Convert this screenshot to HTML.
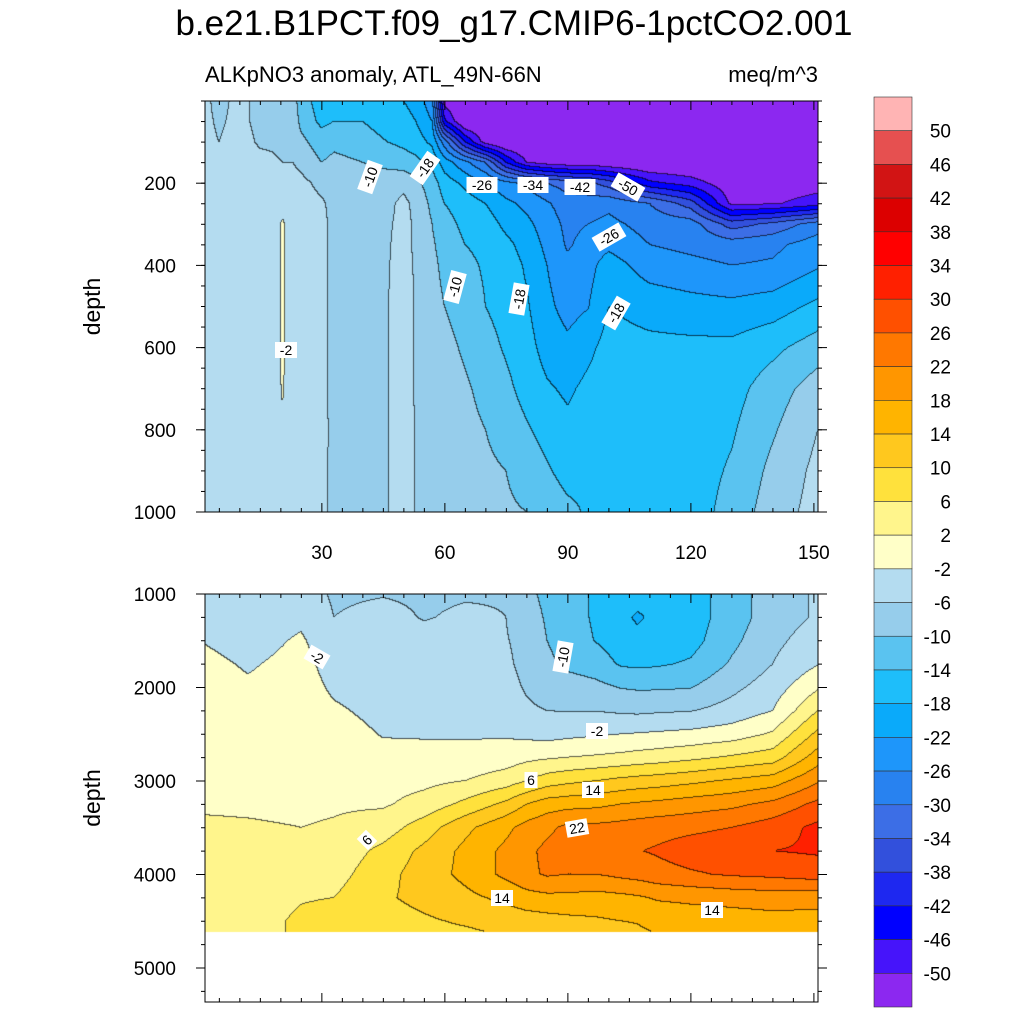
<!DOCTYPE html>
<html><head><meta charset="utf-8">
<style>
body{margin:0;background:#fff;}
#wrap{position:relative;width:1024px;height:1024px;font-family:"Liberation Sans",sans-serif;}
canvas{position:absolute;left:0;top:0;}
svg{position:absolute;left:0;top:0;}
</style></head><body>
<div id="wrap">
<canvas id="cv" width="1024" height="1024"></canvas>
<svg id="sv" width="1024" height="1024"></svg>
</div>
<script>
// ---------- data ----------
const levels = [-50,-46,-42,-38,-34,-30,-26,-22,-18,-14,-10,-6,-2,2,6,10,14,18,22,26,30,34,38,42,46,50];
const colors = ["#8c28f0","#4614fa","#0000ff","#1e28f0","#3250dc","#3c6ee6","#2882f0","#1e96fa","#0aaafa","#1ebefa","#5ac3f0","#96cdeb","#b4dcf0","#ffffc8","#fff58c","#ffe13c","#ffc81e","#ffb400","#ff9600","#ff7800","#ff5000","#ff2000","#ff0000","#dc0000","#d21414","#e65050","#ffb4b4"];
const topYears = [1,5,10,15,18,20.5,23,25,30,33,40,46,50,53,57,60,65,70,75,80,85,90,95,100,110,120,130,140,151];
const topDepths = [0,50,100,150,200,250,300,350,400,500,600,700,800,900,1000];
// each row = one year column, values by depth
const topValues = [
[-5,-5,-5,-4.5,-4,-4,-4,-4,-4,-4,-4,-4,-4,-4,-4],
[-7,-6.5,-6,-5,-4,-4,-4,-4,-4,-4,-4,-4,-4,-4,-4],
[-5,-5,-4.5,-4,-4,-4,-4,-4,-4,-4,-4,-4,-4,-4,-4],
[-7,-7,-6.5,-5,-4,-4,-4,-4,-4,-4,-4,-4,-4,-4,-4],
[-7.5,-7,-6.5,-5.5,-4.5,-4,-4,-4,-4,-4,-4,-4,-4,-4,-4],
[-8,-7.5,-7,-6,-4.5,-3.5,-1.5,-1.5,-1.5,-1.5,-1.5,-1.7,-2.5,-3.5,-4],
[-8,-7.5,-7,-6,-4.5,-4,-4,-4,-4,-4,-4,-4,-4,-4,-4],
[-12,-11,-9,-7,-5,-4.5,-4.5,-4.5,-4.5,-4.5,-4.5,-4.5,-4.5,-4.5,-4.5],
[-16,-15,-12,-10,-7,-5.5,-5,-5,-5,-5,-5,-5,-5,-5.5,-5.8],
[-15,-14,-11,-9,-7.5,-7,-7,-7,-7,-7,-7,-7,-6.8,-6.5,-6.2],
[-15,-14,-12,-10,-8,-7.5,-7.5,-7.5,-7.5,-7.5,-7.5,-7.5,-7.5,-7.5,-7.5],
[-17,-16,-14,-11,-8,-7,-6.5,-6.3,-6.2,-6.1,-6.1,-6.1,-6.1,-6.1,-6.1],
[-18,-17,-15,-12,-7,-5,-5,-5,-5,-5,-5,-5,-5,-5,-5],
[-19,-18,-16,-13,-9,-7,-6.5,-6.5,-6.3,-6.2,-6.2,-6.2,-6.1,-6.1,-6.1],
[-25,-22,-19,-15,-12,-11,-10,-9.5,-9,-8.5,-8,-7.5,-7.3,-7,-7],
[-52,-45,-28,-20,-16,-14,-12.5,-11.5,-11,-10,-9,-8.5,-8,-8,-8],
[-55,-55,-42,-25,-19,-16,-15,-14,-13,-11.5,-10.5,-9.5,-9,-8.5,-8.5],
[-55,-55,-52,-30,-22,-18,-16,-15,-14.5,-14,-12.5,-11,-10,-9.3,-9],
[-55,-55,-55,-42,-25,-21,-19,-17,-16,-15.5,-14.5,-13,-11.5,-10,-9.5],
[-55,-55,-55,-50,-27,-23,-21,-19.5,-18.5,-17.5,-16.5,-15.5,-13.5,-11.5,-10],
[-55,-55,-55,-52,-30,-25.5,-24,-23,-22,-21,-19.5,-17.5,-15.5,-13.5,-11.5],
[-55,-55,-55,-53,-32,-28,-27,-26.5,-25,-23.5,-21,-18.7,-17,-15.5,-13],
[-55,-55,-55,-53,-33,-28,-26,-24.5,-23.5,-22.2,-19,-17,-16,-15,-14.5],
[-55,-55,-55,-54,-36,-27,-25,-23,-20,-18,-16.5,-16,-16,-16,-16],
[-55,-55,-55,-55,-45,-30,-27.5,-26,-24,-19.5,-17,-16,-16,-16,-16],
[-55,-55,-55,-55,-48,-36,-28,-27,-25,-20.5,-17,-16,-16,-16,-16],
[-55,-55,-55,-55,-53,-51,-36,-28,-26,-21,-17,-15.5,-14.5,-13.5,-12.5],
[-55,-55,-55,-55,-53,-50.5,-33,-27,-25.5,-20,-15,-12,-10.5,-9,-8],
[-55,-55,-55,-55,-52,-48,-28,-24,-22.5,-17,-12,-8,-6,-5,-4.5]];
const botYears = [1,12,25,33,45,55,65,75,80,85,90,97,103,107,112,120,130,140,151];
const botDepths = [1000,1250,1500,1750,2000,2250,2500,2750,3000,3250,3500,3750,4000,4250,4500,4615];
const botValues = [
[-4,-3.5,-2.1,-1,0,0,0,0.3,0.8,1.5,2.6,3.5,4,4,4,4],
[-4.5,-4,-3.5,-2.4,-1.5,-0.5,0,0.3,0.8,1.4,2.4,3.5,4.2,4.5,4.8,4.8],
[-4,-2.8,-1.5,-0.8,-0.3,0,0,0.2,0.6,1.2,2,3.5,4.8,5.8,6.5,6.5],
[-6.5,-6,-4.5,-3.5,-2.6,-1.5,-0.5,0,0.6,1.5,2.4,3.5,4.5,6,7,7],
[-6.2,-5,-4.5,-4,-3.6,-3,-2.2,-1,0.5,1.5,4,7,8.5,9.5,8.5,8],
[-6.5,-6.2,-5,-4,-3.5,-3,-2.3,-1,1,3.5,8,11,12,11,9.5,9],
[-6.3,-5.5,-4.8,-4.3,-3.8,-3.2,-2.4,-0.8,2,7,13,15,15,13,10.5,9.5],
[-6.2,-6,-5.8,-5.5,-5,-4,-2.5,0,4,11,17,19,19,15,11.5,10.5],
[-9,-8,-7,-6.8,-6.3,-5.5,-3,1,6,14,19.5,21,21,16.5,12,11],
[-11,-10.5,-10,-9,-7.5,-6,-3.5,1.5,8,16,21,23,22.5,17,12.5,11.5],
[-12.5,-12.5,-12,-11,-8,-6.2,-3,2,9,16.5,23,24.5,22,17,13,12],
[-14.5,-14.5,-14.2,-12,-9,-6.1,-2.5,2.5,10,17,23,24.8,22,16.5,13.5,12.5],
[-16,-17,-16,-14.5,-10.2,-6.6,-2,3,11,18,23.5,25.5,23,17,14,13],
[-16.5,-18.5,-17,-14.8,-10.5,-6.8,-1.8,3.5,11.5,18.5,24,25.8,23.5,17.5,14.2,13.5],
[-16.5,-17,-16.5,-14.5,-10.5,-6.5,-1.5,4,12,19,24.5,26.5,24.5,18.5,15,14.2],
[-16,-16,-15.5,-13.5,-10.2,-6.2,-1,5,13,20,25,28,25.5,19,15.5,15],
[-12,-12,-11,-9.5,-7,-4.5,0,6.5,14.5,21,26,29,26.5,19.5,16,15.5],
[-8,-8,-7,-6,-4,-2,2.5,8,16,23,28,30,27,20,16.5,16],
[-5.5,-5.5,-4,-2.2,1.5,6,11,16,21.5,27,31,30.5,28,19.5,16.5,16]];
const xTicks = [30,60,90,120,150];
const topYTicks = [200,400,600,800,1000];
const botYTicks = [1000,2000,3000,4000,5000];

// ---------- geometry ----------
const PX0=205, PX1=818, yr0=1.5, yr1=151;
const xs = yr => PX0 + (yr-yr0)/(yr1-yr0)*(PX1-PX0);
const xinv = px => yr0 + (px-PX0)/(PX1-PX0)*(yr1-yr0);
const topP = {y0:101,y1:512,d0:0,d1:1000};
const botP = {y0:594,y1:1002,d0:1000,d1:1000+(1002-594)/93.5*1000};
const ys = (p,d) => p.y0 + (d-p.d0)/(p.d1-p.d0)*(p.y1-p.y0);
const yinv = (p,py) => p.d0 + (py-p.y0)/(p.y1-p.y0)*(p.d1-p.d0);

function seg(arr,v){let i=0;while(i<arr.length-2&&v>arr[i+1])i++;let t=(v-arr[i])/(arr[i+1]-arr[i]);return [i,Math.max(0,Math.min(1,t))];}
function interp(X,Y,V,x,y){const [i,tx]=seg(X,x);const [j,ty]=seg(Y,y);
 const a=V[i][j],b=V[i+1][j],c=V[i][j+1],d=V[i+1][j+1];
 return a*(1-tx)*(1-ty)+b*tx*(1-ty)+c*(1-tx)*ty+d*tx*ty;}
function band(v){let k=0;while(k<levels.length&&v>levels[k])k++;return k;}
function hex(h){return [parseInt(h.substr(1,2),16),parseInt(h.substr(3,2),16),parseInt(h.substr(5,2),16)];}
const rgb = colors.map(hex);

const cv=document.getElementById('cv'),ctx=cv.getContext('2d');
function drawField(p,X,Y,V,maxDepth){
 const yEnd=Math.min(p.y1,Math.round(ys(p,maxDepth)));
 const w=PX1-PX0, h=yEnd-p.y0;
 const img=ctx.createImageData(w,h);
 const B=new Int16Array(w*h);
 for(let r=0;r<h;r++){const d=yinv(p,p.y0+r+0.5);
  for(let c=0;c<w;c++){B[r*w+c]=band(interp(X,Y,V,xinv(PX0+c+0.5),d));}}
 for(let r=0;r<h;r++)for(let c=0;c<w;c++){
  const k=B[r*w+c];let col=rgb[k];
  const edge=(c<w-1&&B[r*w+c+1]!==k)||(r<h-1&&B[(r+1)*w+c]!==k);
  const o=(r*w+c)*4;
  if(edge){img.data[o]=col[0]*0.35;img.data[o+1]=col[1]*0.35;img.data[o+2]=col[2]*0.35;}
  else{img.data[o]=col[0];img.data[o+1]=col[1];img.data[o+2]=col[2];}
  img.data[o+3]=255;}
 ctx.putImageData(img,PX0,p.y0);
}
drawField(topP,topYears,topDepths,topValues,1000);
drawField(botP,botYears,botDepths,botValues,4615);

// ---------- svg overlay ----------
const NS="http://www.w3.org/2000/svg",sv=document.getElementById('sv');
function mk(tag,attrs,parent){const e=document.createElementNS(NS,tag);for(const k in attrs)e.setAttribute(k,attrs[k]);(parent||sv).appendChild(e);return e;}
function txt(s,attrs,name){const e=mk('text',attrs);e.textContent=s;
 
 return e;}

txt("b.e21.B1PCT.f09_g17.CMIP6-1pctCO2.001",{x:514,y:35,'font-size':35,'text-anchor':'middle'},'chart-title');
txt("ALKpNO3 anomaly, ATL_49N-66N",{x:205,y:82,'font-size':22},'subtitle-left');
txt("meq/m^3",{x:818,y:82,'font-size':22,'text-anchor':'end'},'units-label');

function panel(p,yt,name,showX,minorStep){
 const g=mk('g',{});
 
 
 mk('rect',{x:PX0,y:p.y0,width:PX1-PX0,height:p.y1-p.y0,fill:'none',stroke:'#000','stroke-width':1},g);
 xTicks.forEach(t=>{const x=xs(t);
  mk('line',{x1:x,x2:x,y1:p.y1,y2:p.y1-9,stroke:'#000'},g);
  mk('line',{x1:x,x2:x,y1:p.y0,y2:p.y0+9,stroke:'#000'},g);
  if(showX){txt(String(t),{x:x,y:p.y1+47,'font-size':19,'text-anchor':'middle'},'x-tick-label');}
 });
 for(let t=5;t<=150;t+=5){if(t%30===0)continue;const x=xs(t);
  mk('line',{x1:x,x2:x,y1:p.y1,y2:p.y1-4,stroke:'#000'},g);
  mk('line',{x1:x,x2:x,y1:p.y0,y2:p.y0+4,stroke:'#000'},g);}
 yt.forEach(t=>{const y=ys(p,t);
  mk('line',{x1:PX0,x2:PX0-9,y1:y,y2:y,stroke:'#000'},g);
  mk('line',{x1:PX1,x2:PX1+9,y1:y,y2:y,stroke:'#000'},g);
  txt(String(t),{x:176,y:y+7,'font-size':19,'text-anchor':'end'},'y-tick-label');});
 for(let t=p.d0;t<=p.d1;t+=minorStep){const y=ys(p,t);
  mk('line',{x1:PX0,x2:PX0-4,y1:y,y2:y,stroke:'#000'},g);
  mk('line',{x1:PX1,x2:PX1+4,y1:y,y2:y,stroke:'#000'},g);}
 const cy=(p.y0+p.y1)/2;
 txt("depth",{x:100,y:cy,'font-size':23,'text-anchor':'middle',transform:`rotate(-90 100 ${cy})`},name+'-y-axis-title');
}
panel(topP,topYTicks,'top-panel',true,50);
panel(botP,botYTicks,'bottom-panel',false,250);

// contour labels
const labels=[["-10",370,177,-70],["-18",425,168,-55],["-26",482,185,0],["-34",533,185,0],["-42",580,187,0],["-50",628,187,30],["-26",609,237,-30],["-10",455,287,-75],["-18",519,299,-80],["-18",616,313,-60],["-2",286,350,0],
["-2",317,657,30],["-10",563,657,-80],["-2",597,731,0],["6",531,780,0],["14",593,790,0],["22",577,828,-10],["6",367,840,-45],["14",502,898,0],["14",712,910,0]];
labels.forEach(l=>{const g=mk('g',{transform:`translate(${l[1]},${l[2]}) rotate(${l[3]})`});
 
 
 const w=l[0].length*9+4;
 mk('rect',{x:-w/2,y:-8,width:w,height:16,fill:'#fff'},g);
 const t=mk('text',{x:0,y:5,'font-size':14,'text-anchor':'middle'},g);t.textContent=l[0];});

// colorbar
const CB0=97,CB1=1007,n=colors.length,bh=(CB1-CB0)/n;
const cb=mk('g',{});


for(let i=0;i<n;i++){const r=mk('rect',{x:874,y:CB0+i*bh,width:38,height:bh,fill:colors[n-1-i],stroke:'#333','stroke-width':0.6},cb);
 
 }
for(let i=0;i<levels.length;i++){const lv=levels[levels.length-1-i];const y=CB0+(i+1)*bh;
 txt(String(lv),{x:951,y:y+7,'font-size':19,'text-anchor':'end'},'colorbar-label');}
</script>
</body></html>
